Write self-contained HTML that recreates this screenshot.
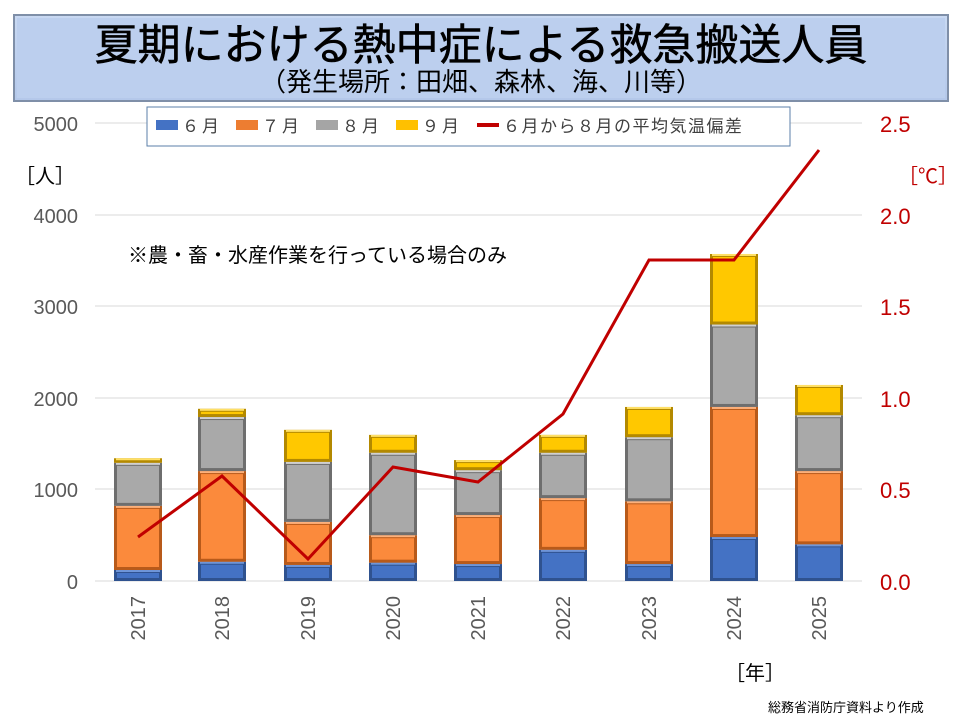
<!DOCTYPE html>
<html><head><meta charset="utf-8"><style>
body{margin:0;background:#fff;width:960px;height:720px;overflow:hidden;font-family:"Liberation Sans","Noto Sans CJK JP",sans-serif}
svg{display:block}
</style></head><body>
<svg id="s" width="960" height="720" xmlns="http://www.w3.org/2000/svg" font-family="Liberation Sans, Noto Sans CJK JP, sans-serif">
<defs>
<linearGradient id="tb" x1="0" y1="0" x2="0" y2="1"><stop offset="0" stop-color="#c9d9f2"/><stop offset="1" stop-color="#b4c8ea"/></linearGradient>
</defs>
<rect x="14" y="15" width="934" height="86" fill="url(#tb)" stroke="#7f8fa8" stroke-width="2"/>
<rect x="17" y="18" width="928" height="80" fill="#bccfee"/>
<text x="481" y="60" font-size="43" text-anchor="middle" fill="#000" stroke="#000" stroke-width="0.6">夏期における熱中症による救急搬送人員</text>
<text x="481" y="91" font-size="26" text-anchor="middle" fill="#000">（発生場所：田畑、森林、海、川等）</text>
<g stroke="#d9d9d9" stroke-width="1">
<line x1="95" y1="123" x2="862" y2="123"/><line x1="95" y1="215" x2="862" y2="215"/><line x1="95" y1="306" x2="862" y2="306"/><line x1="95" y1="398" x2="862" y2="398"/><line x1="95" y1="489" x2="862" y2="489"/><line x1="95" y1="581" x2="862" y2="581"/>
</g>
<g font-size="20" fill="#595959" text-anchor="end">
<text x="78" y="131">5000</text><text x="78" y="223">4000</text><text x="78" y="314">3000</text><text x="78" y="406">2000</text><text x="78" y="497">1000</text><text x="78" y="589">0</text>
</g>
<g font-size="22" fill="#c00000">
<text x="880" y="132">2.5</text><text x="880" y="224">2.0</text><text x="880" y="315">1.5</text><text x="880" y="407">1.0</text><text x="880" y="498">0.5</text><text x="880" y="590">0.0</text>
</g>
<text x="15" y="183" font-size="20" fill="#000">［人］</text>
<text x="898" y="183" font-size="20" fill="#c00000">［℃］</text>
<text x="128" y="262" font-size="20" fill="#000">※農・畜・水産作業を行っている場合のみ</text>
<g id="bars"></g>
<polyline points="138,537 222,476 308,559 393,467 478,482 563,414 649,260 734,260 819,150" fill="none" stroke="#c00000" stroke-width="3"/>
<g font-size="20" fill="#595959" text-anchor="end">
<text transform="translate(145,596) rotate(-90)">2017</text>
<text transform="translate(229,596) rotate(-90)">2018</text>
<text transform="translate(315,596) rotate(-90)">2019</text>
<text transform="translate(400,596) rotate(-90)">2020</text>
<text transform="translate(485,596) rotate(-90)">2021</text>
<text transform="translate(570,596) rotate(-90)">2022</text>
<text transform="translate(656,596) rotate(-90)">2023</text>
<text transform="translate(741,596) rotate(-90)">2024</text>
<text transform="translate(826,596) rotate(-90)">2025</text>
</g>
<text x="725" y="680" font-size="20" fill="#000">［年］</text>
<text x="768" y="712" font-size="13" fill="#000">総務省消防庁資料より作成</text>
<rect x="147" y="107" width="643" height="39" fill="#fff" stroke="#5b7fa8" stroke-width="1"/>
<g font-size="17" fill="#404040">
<rect x="156" y="120" width="22" height="10" fill="#4472c4"/><text x="182" y="132" letter-spacing="3">６月</text>
<rect x="236" y="120" width="22" height="10" fill="#ed7d31"/><text x="262" y="132" letter-spacing="3">７月</text>
<rect x="316" y="120" width="22" height="10" fill="#a5a5a5"/><text x="342" y="132" letter-spacing="3">８月</text>
<rect x="396" y="120" width="22" height="10" fill="#ffc000"/><text x="422" y="132" letter-spacing="3">９月</text>
<rect x="477" y="123" width="22" height="4" fill="#c00000"/><text x="503" y="132" letter-spacing="1.5">６月から８月の平均気温偏差</text>
</g>
</svg>
<script>
var d=[[120,820,1290,1340],[210,1200,1790,1880],[175,645,1300,1650],[200,500,1400,1595],[185,720,1210,1320],[340,905,1400,1595],[185,870,1570,1900],[480,1900,2800,3570],[400,1200,1810,2140]];
var cx=[138,222,308,393,478,563,649,734,819];
var col=[["#4472c4","#2f528f","#6f95d8"],["#fb8a3c","#b85a1a","#fdb07a"],["#a9a9a9","#6e6e6e","#d0d0d0"],["#ffc800","#b38900","#ffe066"]];
var g=document.getElementById("bars"),h="";
function Y(v){return 581-v*0.0916;}
for(var i=0;i<9;i++){var p=0;for(var j=0;j<4;j++){var y1=Y(d[i][j]),y0=Y(p),x=cx[i]-24,w=48,hh=y0-y1;
h+='<rect x="'+x+'" y="'+y1+'" width="'+w+'" height="'+hh+'" fill="'+col[j][1]+'"/>';
if(hh>6)h+='<rect x="'+(x+3)+'" y="'+(y1+3)+'" width="'+(w-6)+'" height="'+(hh-6)+'" fill="'+col[j][0]+'"/>';
h+='<rect x="'+(x+2)+'" y="'+y1+'" width="'+(w-4)+'" height="'+Math.min(2,hh)+'" fill="'+col[j][2]+'"/>';
p=d[i][j];}}
g.innerHTML=h;
</script>
</body></html>
